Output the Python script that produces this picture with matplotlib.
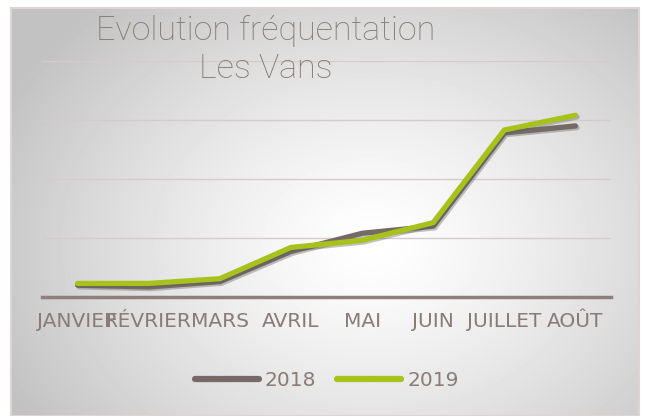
import matplotlib.pyplot as plt
import matplotlib.patheffects as pe
import numpy as np

mois = ["JANVIER", "FÉVRIER", "MARS", "AVRIL", "MAI", "JUIN", "JUILLET", "AOÛT"]
freq2018 = [2000, 1700, 2600, 7700, 10800, 12000, 27800, 29000]
freq2019 = [2300, 2300, 3100, 8400, 9600, 12600, 28300, 30800]

W, H = 646, 416
fig = plt.figure(figsize=(W / 100, H / 100), dpi=100)
fig.patch.set_facecolor("white")

# fond en dégradé radial
bg = fig.add_axes([11 / W, 0, (639 - 11) / W, (416 - 8) / H])
yy, xx = np.mgrid[0:408, 0:628]
d = np.sqrt(((xx - 360) / 420.0) ** 2 + ((yy - 235) / 330.0) ** 2)
val = np.clip(1.0 - 0.25 * d ** 1.3, 0.76, 1.0)
bg.imshow(val, cmap="gray", vmin=0, vmax=1, aspect="auto", interpolation="bilinear")
bg.set_xticks([])
bg.set_yticks([])
for s in bg.spines.values():
    s.set_color("#dcd5d2")
    s.set_linewidth(1.5)

ax = fig.add_axes([42 / W, (416 - 297) / H, (611 - 42) / W, (297 - 61) / H])
ax.patch.set_alpha(0)
x = np.arange(len(mois))
ombre = [pe.SimpleLineShadow(offset=(1.2, -1.2), shadow_color="#555555", alpha=0.35), pe.Normal()]
ax.plot(x, freq2018, color="#756a66", lw=3.8, solid_capstyle="round", label="2018", path_effects=ombre)
ax.plot(x, freq2019, color="#a7c21a", lw=3.8, solid_capstyle="round", label="2019", path_effects=ombre)

ax.set_xlim(-0.5, len(mois) - 0.5)
ax.set_ylim(0, 40000)
ax.set_yticks([10000, 20000, 30000, 40000])
ax.set_yticklabels([])
ax.tick_params(axis="y", length=0)
ax.grid(axis="y", color="#d3cccb", lw=1)
ax.set_axisbelow(True)
for s in ["top", "right", "left"]:
    ax.spines[s].set_visible(False)
ax.spines["bottom"].set_color("#8f7f79")
ax.spines["bottom"].set_linewidth(2.5)
ax.set_xticks(x)
ax.set_xticklabels(mois, family=["Liberation Sans Narrow", "DejaVu Sans"], fontsize=14.5, color="#8b7b74")
ax.tick_params(axis="x", length=0, pad=11)

fig.text(266 / W, 1 - 31 / H, "Evolution fréquentation", ha="center", va="center",
         fontsize=24.5, color="#85766f", family="Roboto", fontweight="light", zorder=10)
fig.text(266 / W, 1 - 69 / H, "Les Vans", ha="center", va="center",
         fontsize=24.5, color="#85766f", family="Roboto", fontweight="light", zorder=10)

leg = ax.legend(loc="center", bbox_to_anchor=(0.5, (297 - 381) / (297 - 61)), ncol=2, frameon=False,
                prop={"family": ["Liberation Sans Narrow", "DejaVu Sans"], "size": 14.5},
                handlelength=3.2, columnspacing=1.0, handletextpad=0.3)
for t in leg.get_texts():
    t.set_color("#8b7b74")
for l in leg.get_lines():
    l.set_linewidth(4.5)
    l.set_path_effects([])

fig.savefig("out.png", dpi=100)
